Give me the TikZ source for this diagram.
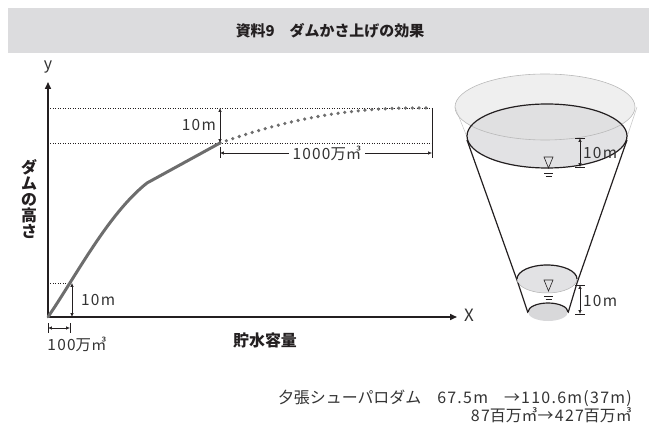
\documentclass[tikz,border=0pt]{standalone}
\usepackage{fontspec}
\setmainfont{Noto Sans CJK JP}
\newfontfamily\nmfont{Noto Sans CJK JP}[LetterSpace=8]
\newcommand\nm[1]{{\nmfont #1}}
\usetikzlibrary{arrows.meta}
\definecolor{band}{HTML}{DCDCDE}
\definecolor{ink}{HTML}{231F20}
\definecolor{txt}{HTML}{333333}
\definecolor{curve}{HTML}{6D6D6D}
\definecolor{water}{HTML}{E2E2E4}
\tikzset{
  lbl/.style={font=\fontsize{15.5}{17}\selectfont, text=txt, inner sep=0pt},
  note/.style={font=\fontsize{16}{18}\selectfont, text=txt, inner sep=0pt},
  bold/.style={font=\fontsize{16}{18}\selectfont\bfseries, text=ink, inner sep=0pt},
  axis/.style={line width=1.6pt, ink, -{Triangle[length=7pt,width=6pt]}},
  guide/.style={line width=0.5pt, ink, dotted},
  dim/.style={line width=0.6pt, ink, {Latex[length=4pt,width=3.5pt]}-{Latex[length=4pt,width=3.5pt]}},
  tick/.style={line width=0.6pt, ink},
  cone/.style={line width=1.2pt, ink},
}
\begin{document}
\begin{tikzpicture}[x=1bp,y=-1bp]
\useasboundingbox (0,0) rectangle (649,433);

% title band
\fill[band] (8,8) rectangle (649,53);
\node[font=\fontsize{15}{17}\selectfont\bfseries, text=ink] (title) at (330,31) {資料9　ダムかさ上げの効果};

% axes
\coordinate (O) at (48,317);
\draw[axis] (O) -- (48,82);
\draw[axis] (O) -- (457,317);
\node[lbl, font=\fontsize{16}{18}\selectfont] (ylab) at (48,67) {y};
\node[lbl, font=\fontsize{17}{19}\selectfont] (xlab) at (469,315) {X};
\node[bold] (xtitle) at (265,340) {貯水容量};
\node[bold, align=center] (ytitle) at (29,199)
  {ダ\\[-2pt]ム\\[-2pt]の\\[-2pt]高\\[-2pt]さ};

% guide lines
\draw[guide] (48,108) -- (432,108);
\draw[guide] (48,143) -- (432,143);
\draw[guide] (48,283) -- (72,283);

% storage curve
\draw[curve, line width=3pt, line cap=round] (O) .. controls (76,276) and (108,214) .. (147,183) -- (220,143);
\draw[curve, line width=3.6pt, line cap=round, dash pattern=on 0pt off 6.8pt]
  (220,143) .. controls (300,115) and (360,107) .. (432,108);

% dimensions on the chart
\draw[dim] (220,108) -- (220,143);
\node[lbl, anchor=east] (d1) at (216,125) {\nm{10m}};
\draw[tick] (432,108) -- (432,158);
\draw[tick] (220,147) -- (220,158);
\draw[dim] (220,153) -- (432,153);
\node[lbl, fill=white, inner xsep=4pt, inner ysep=1pt] (d2) at (327,153) {\nm{1000}万㎥};
\draw[dim] (72,283) -- (72,317);
\node[lbl, anchor=west] (d3) at (81,300) {\nm{10m}};
\draw[tick] (48,323) -- (48,333);
\draw[tick] (70,323) -- (70,333);
\draw[dim] (48,328) -- (70,328);
\node[lbl] (d4) at (77,344) {\nm{100}万㎥};

% cone: raised reservoir
\fill[water] (547,136) ellipse [x radius=80, y radius=32];
\draw[gray!45, line width=0.5pt] (455,107) -- (467,137) (637,107) -- (627,137);
\filldraw[fill=gray!25, fill opacity=0.5, draw=gray!55, line width=0.6pt] (545,107) ellipse [x radius=90, y radius=33];
\draw[cone] (547,136) ellipse [x radius=80, y radius=32];
\draw[cone] (467,140) -- (518,283);
\draw[cone] (627,140) -- (577,283);

% cone: original reservoir
\filldraw[fill=water, draw=gray!60, line width=0.5pt] (547,279) ellipse [x radius=30, y radius=14];
\draw[cone] (517,279) arc[start angle=180, end angle=360, x radius=30, y radius=14];
\draw[cone] (518,283) -- (528,313);
\draw[cone] (577,283) -- (568,313);
\fill[water!90!gray] (548,312) ellipse [x radius=20, y radius=9];
\draw[cone] (528,312) arc[start angle=180, end angle=360, x radius=20, y radius=9];

% water level marks
\foreach \y/\l in {157/173, 280/296}{
  \draw[ink, line width=0.6pt] (544,\y) -- (553,\y) -- (548.5,\y+11) -- cycle;
  \draw[ink, line width=0.6pt] (544,\l) -- (553,\l) (545.5,\l+3) -- (551.5,\l+3);
}

% cone dimensions
\draw[tick] (575,138) -- (585,138) (575,167) -- (585,167);
\draw[dim] (580,138) -- (580,167);
\node[lbl, anchor=west] (d5) at (583,153) {\nm{10m}};
\draw[tick] (575,285) -- (585,285) (575,314) -- (585,314);
\draw[dim] (580,285) -- (580,314);
\node[lbl, anchor=west] (d6) at (583,301) {\nm{10m}};

% note
\node[note, anchor=east] (n1) at (632,398) {夕張シューパロダム　\nm{67.5m}　\nm{→110.6m(37m)}};
\node[note, anchor=east] (n2) at (632,415) {\nm{87}百万㎥\nm{→427}百万㎥};
\end{tikzpicture}
\end{document}
